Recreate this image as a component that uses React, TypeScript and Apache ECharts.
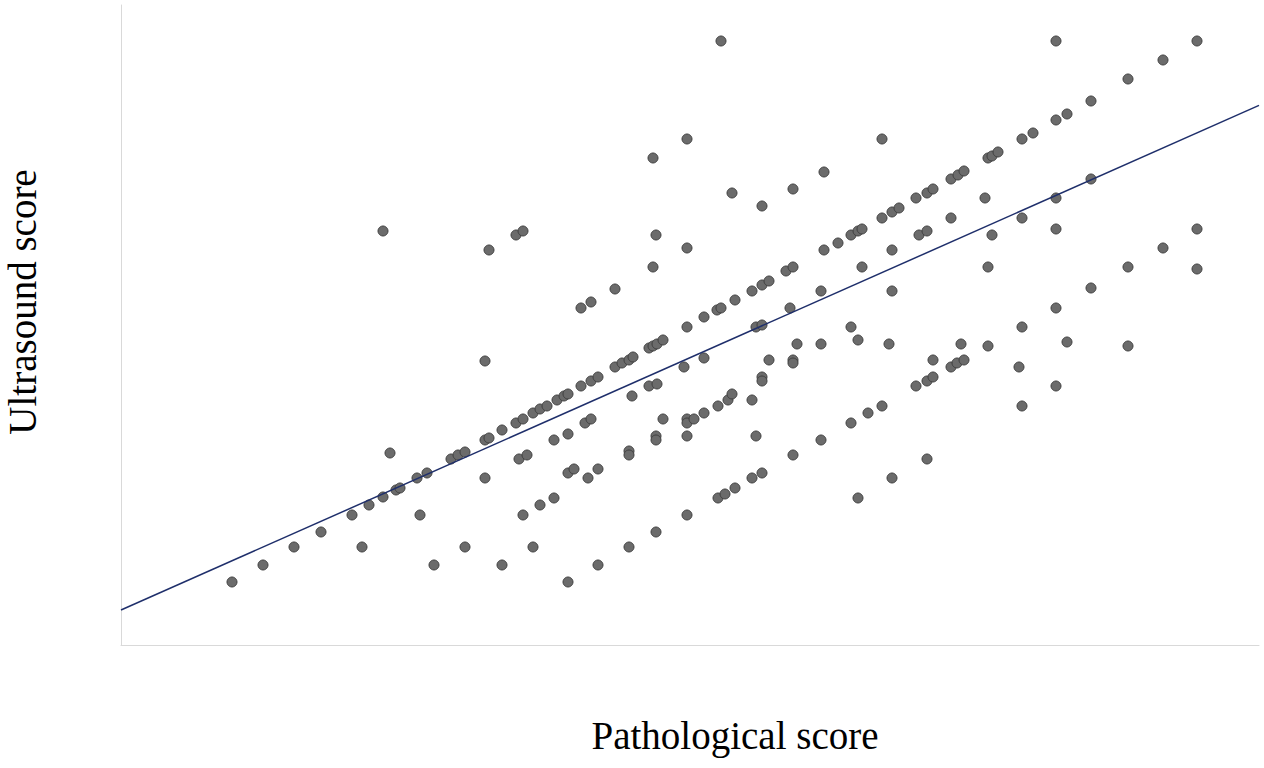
import React, { useEffect, useRef } from "react";
import * as echarts from "echarts";

// Pathological score (x) and Ultrasound score (y) (arbitrary units, no tick labels shown)
const pathological: number[] = [
  11.1, 14.2, 17.3, 20.0, 23.1, 24.1, 24.8, 26.2, 27.5, 27.9,
  26.9, 26.2, 29.6, 30.6, 29.9, 31.3, 33.0, 33.7, 34.4, 34.4,
  36.4, 36.8, 36.4, 36.4, 36.8, 38.1, 38.1, 39.5, 40.2, 39.5,
  40.2, 39.8, 40.6, 40.2, 41.2, 41.2, 41.9, 42.6, 41.9, 43.3,
  43.3, 43.6, 44.3, 44.7, 44.7, 44.7, 45.3, 44.7, 46.0, 46.0,
  47.0, 47.0, 47.7, 46.4, 47.0, 46.7, 47.7, 47.7, 49.4, 50.1,
  50.8, 51.2, 49.4, 51.1, 50.8, 50.8, 50.8, 52.8, 53.2, 53.6,
  54.2, 52.8, 53.6, 53.2, 53.2, 53.5, 53.5, 53.5, 54.2, 53.5,
  56.3, 56.6, 56.6, 56.6, 56.6, 56.6, 57.3, 56.6, 56.6, 58.3,
  58.3, 58.3, 59.6, 60.0, 60.0, 59.7, 59.7, 60.4, 60.7, 61.1,
  61.1, 61.4, 61.4, 63.1, 63.1, 63.1, 63.5, 64.1, 63.5, 64.1,
  64.8, 64.1, 64.1, 64.1, 64.1, 64.8, 66.5, 67.2, 67.2, 66.9,
  67.2, 67.2, 67.6, 67.2, 70.0, 70.0, 70.0, 70.3, 70.3, 71.7,
  73.0, 73.7, 74.1, 73.0, 73.0, 73.7, 73.7, 74.1, 74.7, 76.1,
  76.1, 76.1, 77.1, 77.1, 77.1, 76.8, 77.1, 77.8, 79.5, 79.5,
  79.8, 80.6, 80.6, 81.2, 80.6, 81.2, 81.2, 80.6, 83.0, 83.7,
  84.3, 83.0, 83.0, 83.6, 84.3, 84.0, 86.4, 86.7, 87.1, 87.7,
  87.1, 86.7, 86.7, 90.1, 91.2, 90.1, 90.1, 89.8, 90.1, 93.5,
  93.5, 94.6, 93.5, 93.5, 93.5, 93.5, 94.6, 97.0, 97.0, 97.0,
  100.7, 100.7, 100.7, 104.2, 104.2, 107.6, 107.6, 107.6,
];

const ultrasound: number[] = [
  6.3, 8.0, 9.8, 11.3, 13.0, 9.8, 14.0, 14.8, 15.5, 15.7,
  19.2, 41.4, 16.7, 17.2, 13.0, 8.0, 18.6, 19.0, 19.3, 9.8,
  20.5, 20.7, 16.7, 28.4, 39.5, 21.5, 8.0, 22.2, 22.6, 41.0,
  41.4, 18.6, 19.0, 13.0, 9.8, 23.2, 23.6, 23.9, 14.0, 14.7,
  20.5, 24.5, 24.9, 25.1, 21.1, 17.2, 17.6, 6.3, 25.9, 33.7,
  34.3, 26.4, 26.8, 22.2, 22.6, 16.7, 17.6, 8.0, 27.8, 28.2,
  28.5, 28.8, 35.6, 24.9, 19.4, 19.0, 9.8, 29.7, 29.9, 30.1,
  30.5, 25.9, 26.1, 37.8, 48.7, 41.0, 20.9, 20.5, 22.6, 11.3,
  27.8, 31.8, 50.6, 39.7, 22.6, 22.2, 22.6, 20.9, 13.0, 32.8,
  28.7, 23.2, 33.5, 33.7, 60.4, 23.9, 14.7, 15.1, 24.5, 25.1,
  45.2, 34.5, 15.7, 35.4, 24.5, 16.7, 31.8, 32.0, 20.9, 36.0,
  36.4, 43.9, 26.8, 26.4, 17.2, 28.5, 37.4, 37.8, 45.6, 33.7,
  28.5, 28.2, 30.1, 19.0, 35.4, 30.1, 20.5, 39.5, 47.3, 40.2,
  41.0, 41.4, 41.6, 31.8, 22.2, 30.5, 14.7, 37.8, 23.2, 42.7,
  50.6, 23.9, 43.3, 39.5, 35.4, 30.1, 16.7, 43.7, 44.7, 25.9,
  41.0, 41.4, 45.2, 45.6, 26.4, 26.8, 28.5, 18.6, 46.6, 47.0,
  47.4, 42.7, 27.8, 28.2, 28.5, 30.1, 44.7, 48.7, 48.9, 49.3,
  41.0, 37.8, 29.9, 50.6, 51.2, 42.7, 31.8, 27.8, 23.9, 60.4,
  52.5, 53.1, 44.7, 41.6, 33.7, 25.9, 30.3, 54.4, 46.6, 35.7,
  56.6, 37.8, 29.9, 58.5, 39.7, 60.4, 41.6, 37.6,
];

// Linear trend line
const trendIntercept = 3.5;
const trendSlope = 0.4434;

const xAxisRange: number[] = [0, 113.8];
const yAxisRange: number[] = [0, 64];

const xTitle = "Pathological score";
const yTitle = "Ultrasound score";

export default function App() {
  const ref = useRef<HTMLDivElement>(null);

  useEffect(() => {
    if (!ref.current) return;
    const chart = echarts.init(ref.current, null, { renderer: "svg" });
    const points = pathological.map((x, i) => [x, ultrasound[i]]);
    const trend = [
      [xAxisRange[0], trendIntercept + trendSlope * xAxisRange[0]],
      [xAxisRange[1], trendIntercept + trendSlope * xAxisRange[1]],
    ];
    const fontFamily = "'Liberation Serif', 'Times New Roman', serif";
    chart.setOption({
      animation: false,
      backgroundColor: "#ffffff",
      grid: { left: 121, top: 5, width: 1138, height: 640, containLabel: false },
      xAxis: {
        type: "value",
        min: xAxisRange[0],
        max: xAxisRange[1],
        axisLine: { show: true, lineStyle: { color: "#d9d9d9", width: 1 } },
        axisTick: { show: false },
        axisLabel: { show: false },
        splitLine: { show: false },
      },
      yAxis: {
        type: "value",
        min: yAxisRange[0],
        max: yAxisRange[1],
        axisLine: { show: true, lineStyle: { color: "#d9d9d9", width: 1 } },
        axisTick: { show: false },
        axisLabel: { show: false },
        splitLine: { show: false },
      },
      graphic: [
        {
          type: "text",
          x: 735,
          y: 735,
          style: {
            text: xTitle,
            fill: "#000000",
            font: `39px ${fontFamily}`,
            textAlign: "center",
            textVerticalAlign: "middle",
          },
        },
        {
          type: "text",
          x: 22,
          y: 302,
          rotation: Math.PI / 2,
          style: {
            text: yTitle,
            fill: "#000000",
            font: `39px ${fontFamily}`,
            textAlign: "center",
            textVerticalAlign: "middle",
          },
        },
      ],
      series: [
        {
          type: "scatter",
          data: points,
          symbol: "circle",
          symbolSize: 10,
          itemStyle: { color: "#6b6b6b", borderColor: "#3f3f3f", borderWidth: 1, opacity: 1 },
          z: 2,
        },
        {
          type: "line",
          data: trend,
          symbol: "none",
          lineStyle: { color: "#1f2f6b", width: 1.5 },
          z: 3,
        },
      ],
    });
    return () => chart.dispose();
  }, []);

  return (
    <div
      ref={ref}
      style={{ position: "fixed", left: 0, top: 0, width: 1264, height: 768, background: "#fff" }}
    />
  );
}
